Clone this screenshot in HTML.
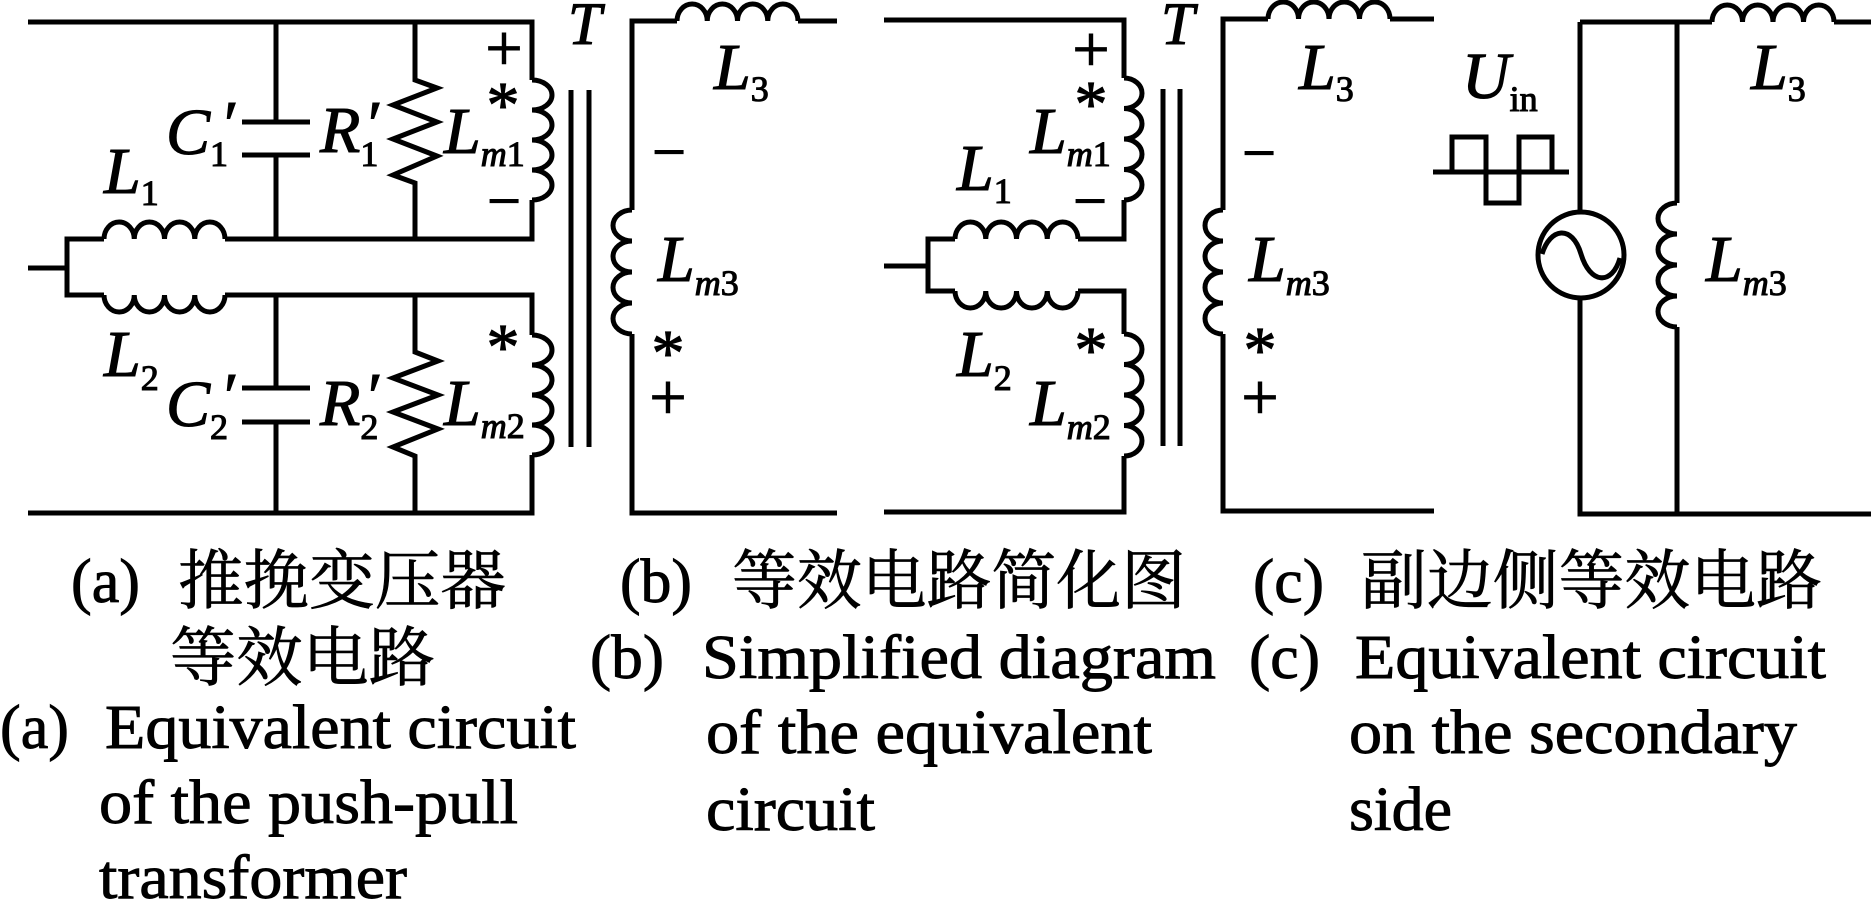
<!DOCTYPE html>
<html>
<head>
<meta charset="utf-8">
<style>
html,body{margin:0;padding:0;background:#fff;}
svg{display:block;}
text{font-family:"Liberation Serif","Noto Serif CJK SC",serif;fill:#000;}
.it{font-style:italic;}
.lab text{stroke:#000;stroke-width:1.1;}
.cap text{stroke:#000;stroke-width:0.9;}
.cap text.cj{stroke-width:0.7;}
</style>
</head>
<body>
<svg width="1871" height="901" viewBox="0 0 1871 901" xmlns="http://www.w3.org/2000/svg">
<rect width="1871" height="901" fill="#fff"/>
<g fill="none" stroke="#000" stroke-width="5" stroke-linejoin="miter">
<!-- (a) primary -->
<path d="M28 22 H532 V80"/>
<path d="M532 80 A20 15 0 0 1 532 110 A20 15 0 0 1 532 140 A20 15 0 0 1 532 170 A20 15 0 0 1 532 200"/>
<path d="M532 200 V239 H225"/>
<path d="M104 239 A15.125 17 0 0 1 134.25 239 A15.125 17 0 0 1 164.5 239 A15.125 17 0 0 1 194.75 239 A15.125 17 0 0 1 225 239"/>
<path d="M104 239 H67 V295 H104"/>
<path d="M104 295 A15.125 17 0 0 0 134.25 295 A15.125 17 0 0 0 164.5 295 A15.125 17 0 0 0 194.75 295 A15.125 17 0 0 0 225 295"/>
<path d="M225 295 H532 V335"/>
<path d="M532 335 A20 15 0 0 1 532 365 A20 15 0 0 1 532 395 A20 15 0 0 1 532 425 A20 15 0 0 1 532 455"/>
<path d="M532 455 V513 H28"/>
<path d="M28 268 H67"/>
<path d="M276 22 V122 M242 122 H310 M242 155 H310 M276 155 V239"/>
<path d="M276 295 V388 M242 388 H310 M242 422 H310 M276 422 V513"/>
<path d="M415 22 V80 L437 88 L393 105 L437 122 L393 139 L437 156 L393 175 L415 183 V239"/>
<path d="M415 295 V352 L438 361 L393 378 L438 395 L393 412 L438 429 L393 447 L415 456 V513"/>
<path d="M571 90 V447 M589 90 V447"/>
<!-- (a) secondary -->
<path d="M837 21 H798"/>
<path d="M677 21 A15.125 17 0 0 1 707.25 21 A15.125 17 0 0 1 737.5 21 A15.125 17 0 0 1 767.75 21 A15.125 17 0 0 1 798 21"/>
<path d="M677 21 H632 V210"/>
<path d="M632 210 A19 15.5 0 0 0 632 241 A19 15.5 0 0 0 632 272 A19 15.5 0 0 0 632 303 A19 15.5 0 0 0 632 334"/>
<path d="M632 334 V513 H837"/>
<!-- (b) primary -->
<path d="M884 20 H1124 V78"/>
<path d="M1124 78 A18 15.25 0 0 1 1124 108.5 A18 15.25 0 0 1 1124 139 A18 15.25 0 0 1 1124 169.5 A18 15.25 0 0 1 1124 200"/>
<path d="M1124 200 V239 H1078"/>
<path d="M955 239 A15.375 17 0 0 1 985.75 239 A15.375 17 0 0 1 1016.5 239 A15.375 17 0 0 1 1047.25 239 A15.375 17 0 0 1 1078 239"/>
<path d="M955 239 H928 V291 H955"/>
<path d="M955 291 A15.375 17 0 0 0 985.75 291 A15.375 17 0 0 0 1016.5 291 A15.375 17 0 0 0 1047.25 291 A15.375 17 0 0 0 1078 291"/>
<path d="M1078 291 H1124 V334"/>
<path d="M1124 334 A18 15.25 0 0 1 1124 364.5 A18 15.25 0 0 1 1124 395 A18 15.25 0 0 1 1124 425.5 A18 15.25 0 0 1 1124 456"/>
<path d="M1124 456 V512 H884"/>
<path d="M884 266 H928"/>
<path d="M1163 89 V446 M1180 89 V446"/>
<!-- (b) secondary -->
<path d="M1434 19 H1390"/>
<path d="M1268 19 A15.25 17 0 0 1 1298.5 19 A15.25 17 0 0 1 1329 19 A15.25 17 0 0 1 1359.5 19 A15.25 17 0 0 1 1390 19"/>
<path d="M1268 19 H1223 V210"/>
<path d="M1223 210 A18 15.5 0 0 0 1223 241 A18 15.5 0 0 0 1223 272 A18 15.5 0 0 0 1223 303 A18 15.5 0 0 0 1223 334"/>
<path d="M1223 334 V511 H1434"/>
<!-- (c) -->
<path d="M1433 172 H1569"/>
<path d="M1452 172 V137 H1486 V203 H1519 V137 H1552 V172"/>
<path d="M1580 22 V212"/>
<circle cx="1581" cy="255" r="43"/>
<path d="M1542 254 C1550 228 1572 224 1581 254 C1590 284 1612 286 1620 258"/>
<path d="M1580 298 V514 H1871"/>
<path d="M1580 22 H1712"/>
<path d="M1712 22 A15.25 17 0 0 1 1742.5 22 A15.25 17 0 0 1 1773 22 A15.25 17 0 0 1 1803.5 22 A15.25 17 0 0 1 1834 22"/>
<path d="M1834 22 H1871"/>
<path d="M1677 22 V203"/>
<path d="M1677 203 A19 15.5 0 0 0 1677 234 A19 15.5 0 0 0 1677 265 A19 15.5 0 0 0 1677 296 A19 15.5 0 0 0 1677 327"/>
<path d="M1677 327 V514"/>
</g>

<g font-size="66" class="lab">
<!-- (a) labels -->
<text x="568" y="44" class="it" font-size="60">T</text>
<text x="504" y="70" font-size="66" text-anchor="middle">+</text>
<text x="503" y="127" font-size="66" text-anchor="middle">*</text>
<text x="504" y="221" font-size="60" text-anchor="middle">−</text>
<text x="503" y="369" font-size="66" text-anchor="middle">*</text>

<text x="104" y="193"><tspan class="it">L</tspan><tspan font-size="36" dy="12">1</tspan></text>
<text x="104" y="376"><tspan class="it">L</tspan><tspan font-size="36" dy="14">2</tspan></text>

<text x="166" y="154"><tspan class="it">C</tspan><tspan font-size="36" dy="12">1</tspan></text>
<text x="220" y="146" class="it">′</text>
<text x="320" y="152"><tspan class="it">R</tspan><tspan font-size="36" dy="14">1</tspan></text>
<text x="364" y="146" class="it">′</text>
<text x="444" y="153"><tspan class="it">L</tspan><tspan font-size="36" dy="13" class="it">m</tspan><tspan font-size="36">1</tspan></text>

<text x="166" y="426"><tspan class="it">C</tspan><tspan font-size="36" dy="13">2</tspan></text>
<text x="220" y="418" class="it">′</text>
<text x="320" y="425"><tspan class="it">R</tspan><tspan font-size="36" dy="14">2</tspan></text>
<text x="364" y="418" class="it">′</text>
<text x="444" y="425"><tspan class="it">L</tspan><tspan font-size="36" dy="13" class="it">m</tspan><tspan font-size="36">2</tspan></text>

<!-- (a) secondary -->
<text x="714" y="89"><tspan class="it">L</tspan><tspan font-size="36" dy="12">3</tspan></text>
<text x="669" y="172" font-size="60" text-anchor="middle">−</text>
<text x="658" y="281"><tspan class="it">L</tspan><tspan font-size="36" dy="14" class="it">m</tspan><tspan font-size="36">3</tspan></text>
<text x="668" y="375" font-size="66" text-anchor="middle">*</text>
<text x="668" y="419" font-size="66" text-anchor="middle">+</text>

<!-- (b) -->
<text x="1161" y="44" class="it" font-size="60">T</text>
<text x="1091" y="71" font-size="66" text-anchor="middle">+</text>
<text x="1091" y="126" font-size="66" text-anchor="middle">*</text>
<text x="1030" y="153"><tspan class="it">L</tspan><tspan font-size="36" dy="13" class="it">m</tspan><tspan font-size="36">1</tspan></text>
<text x="957" y="190"><tspan class="it">L</tspan><tspan font-size="36" dy="13">1</tspan></text>
<text x="1090" y="221" font-size="60" text-anchor="middle">−</text>
<text x="1091" y="372" font-size="66" text-anchor="middle">*</text>
<text x="957" y="376"><tspan class="it">L</tspan><tspan font-size="36" dy="14">2</tspan></text>
<text x="1030" y="425"><tspan class="it">L</tspan><tspan font-size="36" dy="14" class="it">m</tspan><tspan font-size="36">2</tspan></text>

<!-- (b) secondary -->
<text x="1299" y="89"><tspan class="it">L</tspan><tspan font-size="36" dy="12">3</tspan></text>
<text x="1259" y="173" font-size="60" text-anchor="middle">−</text>
<text x="1249" y="281"><tspan class="it">L</tspan><tspan font-size="36" dy="14" class="it">m</tspan><tspan font-size="36">3</tspan></text>
<text x="1260" y="372" font-size="66" text-anchor="middle">*</text>
<text x="1260" y="419" font-size="66" text-anchor="middle">+</text>

<!-- (c) -->
<text x="1462" y="98"><tspan class="it">U</tspan><tspan font-size="36" dy="13">in</tspan></text>
<text x="1751" y="89"><tspan class="it">L</tspan><tspan font-size="36" dy="12">3</tspan></text>
<text x="1706" y="281"><tspan class="it">L</tspan><tspan font-size="36" dy="14" class="it">m</tspan><tspan font-size="36">3</tspan></text>
</g>

<!-- captions -->
<g font-size="62" class="cap">
<text x="71" y="602" textLength="69" lengthAdjust="spacingAndGlyphs">(a)</text>
<text x="178" y="603" font-size="65" textLength="328" lengthAdjust="spacingAndGlyphs" class="cj">推挽变压器</text>
<text x="170" y="680" font-size="65" textLength="265" lengthAdjust="spacingAndGlyphs" class="cj">等效电路</text>
<text x="0" y="748" textLength="69" lengthAdjust="spacingAndGlyphs">(a)</text>
<text x="105" y="748" textLength="471" lengthAdjust="spacingAndGlyphs">Equivalent circuit</text>
<text x="99" y="823" textLength="419" lengthAdjust="spacingAndGlyphs">of the push-pull</text>
<text x="99" y="898" textLength="308" lengthAdjust="spacingAndGlyphs">transformer</text>

<text x="620" y="602" textLength="72" lengthAdjust="spacingAndGlyphs">(b)</text>
<text x="732" y="603" font-size="65" textLength="454" lengthAdjust="spacingAndGlyphs" class="cj">等效电路简化图</text>
<text x="590" y="678" textLength="74" lengthAdjust="spacingAndGlyphs">(b)</text>
<text x="702" y="678" textLength="514" lengthAdjust="spacingAndGlyphs">Simplified diagram</text>
<text x="706" y="753" textLength="446" lengthAdjust="spacingAndGlyphs">of the equivalent</text>
<text x="706" y="830" textLength="169" lengthAdjust="spacingAndGlyphs">circuit</text>

<text x="1253" y="602" textLength="71" lengthAdjust="spacingAndGlyphs">(c)</text>
<text x="1361" y="603" font-size="65" textLength="461" lengthAdjust="spacingAndGlyphs" class="cj">副边侧等效电路</text>
<text x="1249" y="678" textLength="71" lengthAdjust="spacingAndGlyphs">(c)</text>
<text x="1355" y="678" textLength="471" lengthAdjust="spacingAndGlyphs">Equivalent circuit</text>
<text x="1349" y="753" textLength="448" lengthAdjust="spacingAndGlyphs">on the secondary</text>
<text x="1349" y="830" textLength="103" lengthAdjust="spacingAndGlyphs">side</text>
</g>
</svg>
</body>
</html>
